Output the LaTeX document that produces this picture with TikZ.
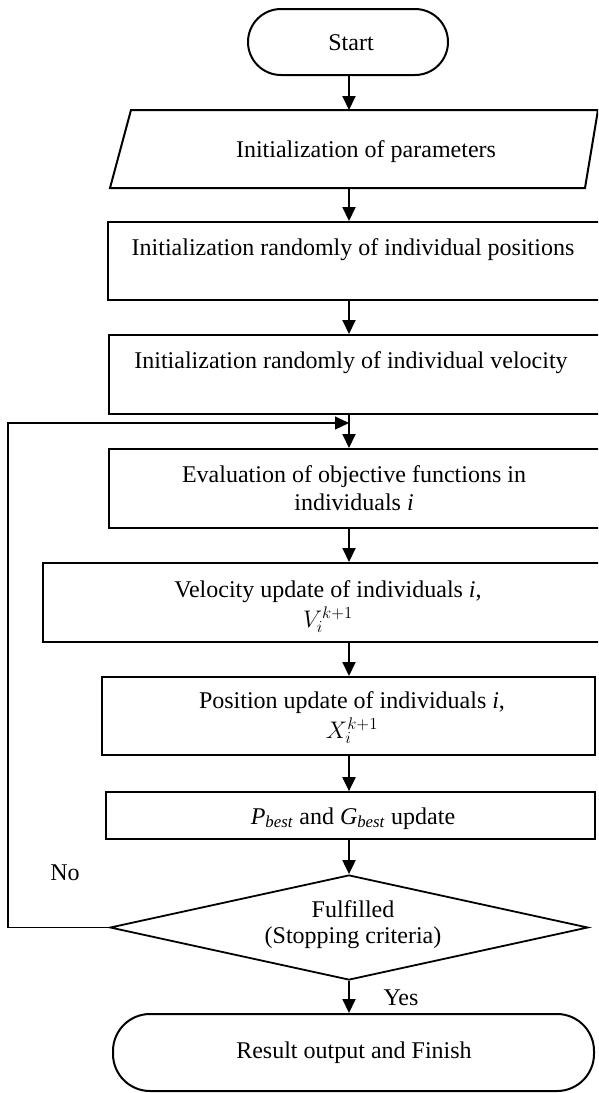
\documentclass[tikz,border=0pt]{standalone}
\usepackage{fix-cm}
\usepackage{fontspec}
\setmainfont{Liberation Serif}
\usetikzlibrary{arrows.meta,shapes.geometric}
\begin{document}
\begin{tikzpicture}[x=1pt,y=-1pt,
  shp/.style={draw, line width=2pt, inner sep=0pt},
  txt/.style={inner sep=0pt, anchor=base, font=\fontsize{24}{28}\selectfont},
  arr/.style={line width=2pt, -{Triangle[length=14pt,width=13pt]}},
  loopline/.style={line width=1.1pt, -{Triangle[length=14pt,width=13pt]}}]
\useasboundingbox (0,0) rectangle (598,1093);
\clip (0,0) rectangle (598,1093);
\coordinate (ax) at (349,0);
% start
\node[shp, rounded corners=33pt, minimum width=200pt, minimum height=66pt] (start) at (348,42) {};
\node[txt] (tstart) at (351,50) {Start};
% parameters (parallelogram)
\draw[line width=2pt] (110,188) -- (131,110) -- (598,110) -- (585,188) -- cycle;
\coordinate (parT) at (349,110);
\coordinate (parB) at (349,188);
\node[txt] (tpar) at (366,157) {Initialization of parameters};
% boxes
\node[shp, minimum width=504pt, minimum height=78pt] (b2) at (360,261) {};
\node[txt] (tb2) at (353,255) {Initialization randomly of individual positions};
\node[shp, minimum width=503pt, minimum height=79pt] (b3) at (360.5,374.5) {};
\node[txt] (tb3) at (351,368) {Initialization randomly of individual velocity};
\node[shp, minimum width=503pt, minimum height=79pt] (ev) at (360.5,488.5) {};
\node[txt] (tev1) at (354,482) {Evaluation of objective functions in};
\node[txt] (tev2) at (354,510) {individuals \textit{i}};
\node[shp, minimum width=569pt, minimum height=79pt] (vel) at (327.5,602.5) {};
\node[txt] (tvel1) at (328,597) {Velocity update of individuals \textit{i},};
\node[txt] (tvel2) at (328,627) {$V_i^{k+1}$};
\node[shp, minimum width=493pt, minimum height=78pt] (pos) at (348.5,716) {};
\node[txt] (tpos1) at (352,708) {Position update of individuals \textit{i},};
\node[txt] (tpos2) at (352,738) {$X_i^{k+1}$};
\node[shp, line width=1.7pt, minimum width=489pt, minimum height=47pt] (pb) at (350.5,815.5) {};
\node[txt] (tpb) at (353,824) {\textit{P}\textsubscript{\textit{best}} and \textit{G}\textsubscript{\textit{best}} update};
% decision
\node[shp, diamond, line width=1.8pt, minimum width=478pt, minimum height=105pt] (dec) at (349,927.5) {};
\node[txt] (tdec1) at (353,917) {Fulfilled};
\node[txt] (tdec2) at (353,943) {(Stopping criteria)};
% result
\node[shp, rounded corners=37pt, minimum width=481pt, minimum height=77pt] (res) at (353.5,1052.5) {};
\node[txt] (tres) at (354,1058) {Result output and Finish};
% labels
\node[txt] (no) at (65,880) {No};
\node[txt] (yes) at (401,1005) {Yes};
% arrows
\draw[arr] (start.south -| ax) -- (parT);
\draw[arr] (parB) -- (b2.north -| ax);
\draw[arr] (b2.south -| ax) -- (b3.north -| ax);
\draw[arr] (b3.south -| ax) -- (ev.north -| ax);
\draw[arr] (ev.south -| ax) -- (vel.north -| ax);
\draw[arr] (vel.south -| ax) -- (pos.north -| ax);
\draw[arr] (pos.south -| ax) -- (pb.north -| ax);
\draw[arr] (pb.south -| ax) -- (dec.north);
\draw[arr] (dec.south) -- (res.north -| ax);
% loop
\coordinate (lc) at (8,423);
\coordinate (ent) at (349,423);
\draw[loopline] (dec.west) -| (lc) -- (ent);
\end{tikzpicture}
\end{document}
